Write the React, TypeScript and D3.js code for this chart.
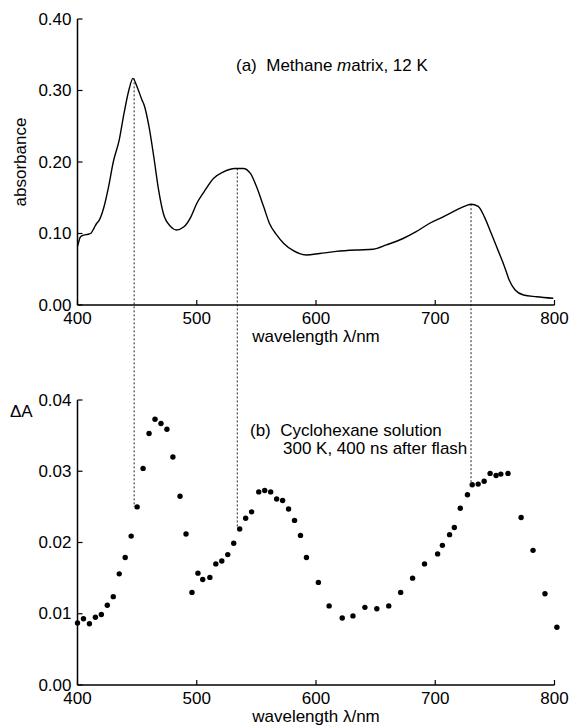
import React from "react"
import * as d3 from "d3"

// (a) methane matrix absorbance
const absWavelength = [400, 401, 402, 404, 409, 411, 414, 416, 418, 422, 426, 430, 435, 439, 443, 446.5, 450, 454, 456, 460, 464, 468, 472, 478, 483, 489, 495, 500, 506, 514, 522, 532, 539, 545, 550, 556, 561, 567, 573, 581, 592, 603, 617, 634, 648, 659, 673, 684, 695, 707, 718, 726, 730, 736, 741, 747, 753, 758, 762, 767, 774, 785, 799]
const absValues = [0.082, 0.088, 0.094, 0.097, 0.099, 0.1, 0.108, 0.114, 0.118, 0.136, 0.165, 0.2, 0.231, 0.268, 0.3, 0.317, 0.305, 0.287, 0.279, 0.249, 0.207, 0.161, 0.128, 0.11, 0.105, 0.109, 0.123, 0.142, 0.158, 0.177, 0.186, 0.191, 0.191, 0.184, 0.166, 0.138, 0.114, 0.098, 0.086, 0.076, 0.07, 0.072, 0.075, 0.077, 0.078, 0.084, 0.093, 0.1025, 0.114, 0.1235, 0.133, 0.139, 0.141, 0.138, 0.124, 0.1, 0.075, 0.054, 0.035, 0.021, 0.014, 0.0116, 0.0094]

// (b) cyclohexane solution transient absorption points
const dAWavelength = [400, 405, 410, 415, 420, 425, 430, 435, 440, 445, 450, 455, 460, 465, 470, 475, 480, 486, 491, 496, 501, 505, 511, 516, 521, 526, 531, 536, 541, 546, 552, 557, 562, 567, 572, 577, 582, 587, 592, 602, 611, 622, 631, 641, 651, 661, 671, 681, 691, 702, 706, 712, 716, 721, 727, 731, 736, 741, 746, 751, 755, 761, 772, 782, 792, 802]
const dAValues = [0.0087, 0.0093, 0.0086, 0.0095, 0.0099, 0.0112, 0.0124, 0.0156, 0.0179, 0.0209, 0.025, 0.0304, 0.0353, 0.0373, 0.0367, 0.0359, 0.032, 0.0265, 0.0212, 0.013, 0.0157, 0.0148, 0.0151, 0.017, 0.0174, 0.0183, 0.0199, 0.0219, 0.0234, 0.0243, 0.0271, 0.0273, 0.0271, 0.0261, 0.0259, 0.0247, 0.0231, 0.021, 0.0179, 0.0144, 0.0111, 0.0094, 0.0097, 0.0109, 0.0107, 0.0111, 0.013, 0.015, 0.017, 0.0184, 0.0196, 0.0211, 0.0221, 0.0248, 0.0267, 0.0281, 0.0282, 0.0286, 0.0297, 0.0294, 0.0296, 0.0297, 0.0235, 0.0189, 0.0128, 0.0081]

// dotted guide lines: peak wavelength, top of line (absorbance), bottom end (ΔA)
const peakWavelengths = [447.5, 534, 730]
const peakAbs = [0.317, 0.191, 0.141]
const peakDA = [0.025, 0.022, 0.0285]

const xTicks = [400, 500, 600, 700, 800]
const absTicks = [0, 0.1, 0.2, 0.3, 0.4]
const dATicks = [0, 0.01, 0.02, 0.03, 0.04]

const font = "'Liberation Sans', Arial, sans-serif"
const fs = 17

const App = () => {
  const x = d3.scaleLinear().domain([400, 800]).range([77.5, 554.5])
  const yTop = d3.scaleLinear().domain([0, 0.4]).range([305, 19])
  const yBot = d3.scaleLinear().domain([0, 0.04]).range([685, 400])
  const fmt = d3.format(".2f")

  const line = d3
    .line<number>()
    .x((d, i) => x(absWavelength[i]))
    .y((d) => yTop(d))
    .curve(d3.curveMonotoneX)

  const axes = (y: d3.ScaleLinear<number, number>, yTicks: number[], labelY: number, titleY: number) => (
    <g>
      <line x1={x(400)} x2={x(800)} y1={y(0)} y2={y(0)} stroke="#000" strokeWidth={1.5} />
      <line x1={x(400)} x2={x(400)} y1={y(0)} y2={y(yTicks[yTicks.length - 1])} stroke="#000" strokeWidth={1.5} />
      {xTicks.map((t) => (
        <g key={"x" + t}>
          <line x1={x(t)} x2={x(t)} y1={y(0)} y2={y(0) - 5} stroke="#000" strokeWidth={1.2} />
          <text x={x(t)} y={labelY} textAnchor="middle" fontSize={fs}>{t}</text>
        </g>
      ))}
      {yTicks.map((t) => (
        <g key={"y" + t}>
          <line x1={x(400)} x2={x(400) + 5} y1={y(t)} y2={y(t)} stroke="#000" strokeWidth={1.2} />
          <text x={x(400) - 6} y={y(t)} dy="0.33em" textAnchor="end" fontSize={fs}>{fmt(t)}</text>
        </g>
      ))}
      <text x={x(600)} y={titleY} textAnchor="middle" fontSize={fs}>wavelength λ/nm</text>
    </g>
  )

  return (
    <svg width={570} height={726} style={{ position: "absolute", left: 0, top: 0, background: "#fff" }} fontFamily={font}>
      {/* dotted guide lines linking the peaks */}
      {peakWavelengths.map((w, i) => (
        <line key={"g" + i} x1={x(w)} x2={x(w)} y1={yTop(peakAbs[i])} y2={yBot(peakDA[i])}
          stroke="#222" strokeWidth={1} strokeDasharray="2,2" />
      ))}

      {axes(yTop, absTicks, 324, 342)}
      <path d={line(absValues) || ""} fill="none" stroke="#000" strokeWidth={1.4} />
      <text x={20} y={yTop(0.2)} transform={`rotate(-90, 20, ${yTop(0.2)})`} dy="0.36em" textAnchor="middle" fontSize={fs}>absorbance</text>
      <text x={236} y={71} fontSize={fs} xmlSpace="preserve">(a)  Methane <tspan fontStyle="italic">m</tspan>atrix, 12 K</text>

      {axes(yBot, dATicks, 704, 722)}
      {dAValues.map((v, i) => (
        <circle key={"d" + i} cx={x(dAWavelength[i])} cy={yBot(v)} r={2.7} fill="#000" />
      ))}
      <text x={10} y={417} fontSize={fs}>ΔA</text>
      <text x={250} y={436} fontSize={fs} xmlSpace="preserve">(b)  Cyclohexane solution</text>
      <text x={283} y={454} fontSize={fs}>300 K, 400 ns after flash</text>
    </svg>
  )
}

export default App
